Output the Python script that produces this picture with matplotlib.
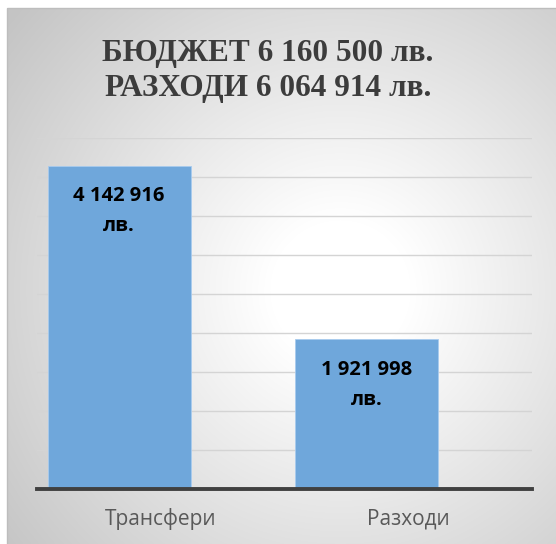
import numpy as np
import matplotlib
matplotlib.use("Agg")
import matplotlib.pyplot as plt
from matplotlib.patches import Rectangle

# ---- data ----
categories = ["Трансфери", "Разходи"]
values = [4142916, 1921998]
value_labels = ["4 142 916", "1 921 998"]
unit_label = "лв."
title_lines = ["БЮДЖЕТ 6 160 500 лв.", "РАЗХОДИ 6 064 914 лв."]
y_max = 4500000
y_step = 500000

W, H = 556, 544
fig = plt.figure(figsize=(W / 100, H / 100), dpi=100)
fig.patch.set_facecolor("white")

# ---- background radial gradient (chart area) ----
bg = fig.add_axes([0, 0, 1, 1], zorder=0)
bg.set_axis_off()
yy, xx = np.mgrid[0:H, 0:W]
cx, cy = 340, 290
r = np.hypot(xx - cx, yy - cy)
t = np.clip((r - 70) / (430 - 70), 0, 1)
g = (255 - (255 - 196) * t) / 255.0
img = np.dstack([g, g, g])
# white outside the chart frame
img[:8, :, :] = 1.0
img[:, :7, :] = 1.0
bg.imshow(img, extent=[0, W, H, 0], aspect="auto", interpolation="bilinear")
bg.set_xlim(0, W)
bg.set_ylim(H, 0)
bg.add_patch(Rectangle((7, 8), W, H, fill=False, edgecolor="#bdbdbd", linewidth=1.0))

# ---- main axes ----
ax = fig.add_axes([37 / W, 1 - 489 / H, 495 / W, 351 / H], zorder=1)
ax.patch.set_alpha(0)
x = np.arange(len(categories))
bar_offset = -0.168
bar_width = 0.578
bars = ax.bar(x + bar_offset, values, width=bar_width, color="#6fa7db",
              edgecolor="#a8cbee", linewidth=0.6, zorder=2)

ax.set_xlim(-0.5, 1.5)
ax.set_ylim(0, y_max)
ax.set_yticks(np.arange(0, y_max + 1, y_step))
ax.yaxis.grid(True, color="#d4d4d4", linewidth=1.0, zorder=0)
ax.set_axisbelow(True)
ax.tick_params(axis="y", left=False, labelleft=False)
ax.set_xticks(x)
ax.set_xticklabels(categories, fontsize=15, color="#595959", family="Open Sans")
ax.tick_params(axis="x", length=0, pad=14)
for s in ["top", "right", "left"]:
    ax.spines[s].set_visible(False)
ax.spines["bottom"].set_color("#404040")
ax.spines["bottom"].set_linewidth(2.8)
ax.spines["bottom"].set_zorder(3)

# ---- data labels ----
for xi, v, lab in zip(x + bar_offset, values, value_labels):
    ax.annotate(lab, xy=(xi, v), xytext=(0, -35.5 * 0.72), textcoords="offset points",
                ha="center", va="baseline", fontsize=14.5, fontweight="bold",
                color="black", family="Open Sans", zorder=4)
    ax.annotate(unit_label, xy=(xi, v), xytext=(0, -65.5 * 0.72), textcoords="offset points",
                ha="center", va="baseline", fontsize=14.5, fontweight="bold",
                color="black", family="Open Sans", zorder=4)

# ---- title ----
fig.text(268 / W, 1 - 61 / H, title_lines[0], ha="center", va="baseline",
         fontsize=22.5, fontweight="bold", family="Liberation Serif", color="#3c3c3c")
fig.text(268 / W, 1 - 95.7 / H, title_lines[1], ha="center", va="baseline",
         fontsize=22.5, fontweight="bold", family="Liberation Serif", color="#3c3c3c")

fig.savefig("out.png", dpi=100)
